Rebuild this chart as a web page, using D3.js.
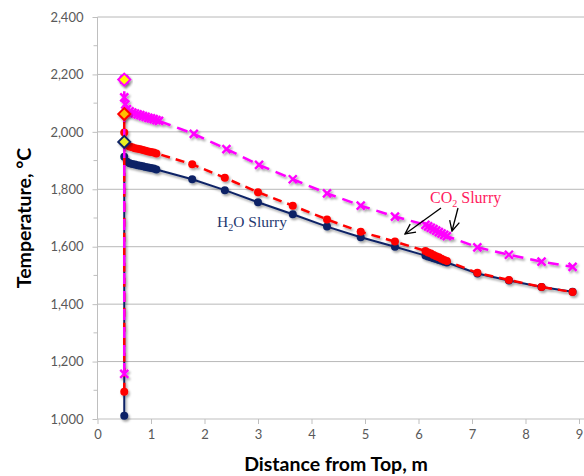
<!DOCTYPE html>
<html>
<head>
<meta charset="utf-8">
<script src="https://cdn.jsdelivr.net/npm/d3@7"></script>
<style>
  html, body { margin: 0; padding: 0; background: #ffffff; }
  svg { display: block; }
</style>
</head>
<body>
<svg id="chart" width="584" height="476"></svg>
<script>
// ---------------- DATA ----------------
const xTicks = [0, 1, 2, 3, 4, 5, 6, 7, 8, 9];
const yTicks = [1000, 1200, 1400, 1600, 1800, 2000, 2200, 2400];

// H2O Slurry (navy, solid, circles)
const h2oX = [0.5, 0.5, 0.55, 0.6, 0.65, 0.7, 0.75, 0.8, 0.85, 0.9, 0.95, 1.0, 1.05, 1.1, 1.77, 2.38, 3.0, 3.65, 4.29, 4.92, 5.56,
              6.13, 6.18, 6.23, 6.28, 6.33, 6.38, 6.43, 6.48, 6.53, 7.1, 7.69, 8.3, 8.88];
const h2oY = [1011, 1913, 1896, 1891, 1888, 1886, 1884, 1882, 1880, 1878, 1876, 1874, 1872, 1869, 1835, 1797, 1755, 1713, 1670, 1633, 1600,
              1569, 1566, 1563, 1560, 1557, 1554, 1551, 1548, 1545, 1507, 1482, 1460, 1443];

// CO2 Slurry (red, dashed, circles)
const redX = [0.5, 0.5, 0.5, 0.55, 0.6, 0.65, 0.7, 0.75, 0.8, 0.85, 0.9, 0.95, 1.0, 1.05, 1.1, 1.77, 2.38, 3.0, 3.65, 4.29, 4.92, 5.56,
              6.13, 6.18, 6.23, 6.28, 6.33, 6.38, 6.43, 6.48, 6.53, 7.1, 7.69, 8.3, 8.88];
const redY = [1095, 2062, 1998, 1953, 1949, 1946, 1943, 1941, 1939, 1937, 1934, 1932, 1930, 1928, 1925, 1887, 1840, 1790, 1743, 1695, 1652, 1618,
              1585, 1580, 1576, 1571, 1567, 1563, 1558, 1554, 1550, 1509, 1484, 1460, 1442];

// CO2 Slurry (magenta, dashed, x markers)
const magX = [0.5, 0.5, 0.5, 0.52, 0.55, 0.6, 0.65, 0.7, 0.75, 0.8, 0.85, 0.9, 0.95, 1.0, 1.05, 1.1, 1.15, 1.8, 2.41, 3.02, 3.65, 4.29, 4.92, 5.56,
              6.13, 6.18, 6.23, 6.28, 6.33, 6.38, 6.43, 6.48, 6.53, 7.1, 7.69, 8.3, 8.88];
const magY = [1157, 2182, 2120, 2096, 2079, 2071, 2067, 2064, 2061, 2058, 2055, 2052, 2049, 2047, 2044, 2041, 2038, 1993, 1940, 1885, 1835, 1786, 1743, 1705,
              1676, 1671, 1666, 1661, 1656, 1651, 1646, 1641, 1637, 1598, 1572, 1548, 1530];

// Diamond markers at the top of the vertical lines
const diamondX = [0.5, 0.5, 0.5];
const diamondY = [2182, 2062, 1965];
const diamondStroke = ["#ff00ff", "#ff0000", "#0d2466"];
const diamondFill = ["#ffff00", "#ffc000", "#e8f020"];

// Annotations
const h2oLabel = "Slurry";
const co2Label = "Slurry";

// ---------------- LAYOUT ----------------
const svg = d3.select("#chart");
const x = d3.scaleLinear().domain([0, 9]).range([97.5, 579]);
const y = d3.scaleLinear().domain([1000, 2400]).range([419, 17]);
const gridRight = 584;

const defs = svg.append("defs");
const sh = defs.append("filter").attr("id", "shadow")
  .attr("x", "-20%").attr("y", "-20%").attr("width", "140%").attr("height", "140%");
sh.append("feDropShadow").attr("dx", 1.5).attr("dy", 2).attr("stdDeviation", 1.2)
  .attr("flood-color", "#000").attr("flood-opacity", 0.35);

const arrowM = defs.append("marker").attr("id", "arrow")
  .attr("viewBox", "0 0 12 12").attr("refX", 11).attr("refY", 6)
  .attr("markerWidth", 12).attr("markerHeight", 12).attr("markerUnits", "userSpaceOnUse")
  .attr("orient", "auto");
arrowM.append("path").attr("d", "M1,1 L11,6 L1,11").attr("fill", "none")
  .attr("stroke", "#000").attr("stroke-width", 1.3);

// gridlines
svg.append("g").selectAll("line").data(yTicks.filter(d => d > 1000)).join("line")
  .attr("x1", x(0)).attr("x2", gridRight).attr("y1", d => y(d)).attr("y2", d => y(d))
  .attr("stroke", "#b8b8b8").attr("stroke-width", 1);

// y axis
const yAxis = svg.append("g").attr("transform", `translate(${x(0)},0)`)
  .call(d3.axisLeft(y).tickValues(yTicks).tickSize(5).tickPadding(9).tickFormat(d3.format(",")));
const yMinor = d3.range(1100, 2400, 200);
svg.append("g").selectAll("line").data(yMinor).join("line")
  .attr("x1", x(0) - 4).attr("x2", x(0)).attr("y1", d => y(d)).attr("y2", d => y(d))
  .attr("stroke", "#bfbfbf");

// x axis
const xAxis = svg.append("g").attr("transform", `translate(0,${y(1000)})`)
  .call(d3.axisBottom(x).tickValues(xTicks).tickSize(5).tickPadding(6).tickFormat(d3.format("d")));

[yAxis, xAxis].forEach(g => {
  g.select(".domain").attr("stroke", "#bfbfbf");
  g.selectAll(".tick line").attr("stroke", "#bfbfbf");
  g.selectAll(".tick text").attr("fill", "#595959")
    .style("font-family", "Lato, 'Open Sans', sans-serif").style("font-size", "13px");
});
yAxis.select(".domain").attr("d", `M0,${y(2400)}V${y(1000)}`);
xAxis.select(".domain").attr("d", `M${x(0)},0H${gridRight}`);

// axis titles
svg.append("text").attr("transform", `translate(26,${(y(1000) + y(2400)) / 2}) rotate(-90)`)
  .attr("text-anchor", "middle").attr("dominant-baseline", "middle")
  .style("font-family", "Lato, 'Open Sans', sans-serif").style("font-weight", "bold")
  .style("font-size", "19.5px").attr("fill", "#000").text("Temperature, °C");
svg.append("text").attr("x", 336).attr("y", 471)
  .attr("text-anchor", "middle")
  .style("font-family", "Lato, 'Open Sans', sans-serif").style("font-weight", "bold")
  .style("font-size", "19.5px").attr("fill", "#000").text("Distance from Top, m");

// ---------------- SERIES ----------------
const toPts = (xs, ys) => xs.map((v, i) => ({ x: v, y: ys[i] }));
const line = d3.line().x(d => x(d.x)).y(d => y(d.y));

const seriesG = svg.append("g").attr("filter", "url(#shadow)");

const h2o = toPts(h2oX, h2oY);
const red = toPts(redX, redY);
const mag = toPts(magX, magY);

seriesG.append("path").datum(h2o).attr("d", line).attr("fill", "none")
  .attr("stroke", "#0d2466").attr("stroke-width", 2);
seriesG.append("g").selectAll("circle").data(h2o).join("circle")
  .attr("cx", d => x(d.x)).attr("cy", d => y(d.y)).attr("r", 4).attr("fill", "#0d2466");

seriesG.append("path").datum(red).attr("d", line).attr("fill", "none")
  .attr("stroke", "#ff0000").attr("stroke-width", 2.5).attr("stroke-dasharray", "9,6");
seriesG.append("g").selectAll("circle").data(red).join("circle")
  .attr("cx", d => x(d.x)).attr("cy", d => y(d.y)).attr("r", 4).attr("fill", "#ff0000");

seriesG.append("path").datum(mag).attr("d", line).attr("fill", "none")
  .attr("stroke", "#ff00ff").attr("stroke-width", 2.5).attr("stroke-dasharray", "11,7");
seriesG.append("g").selectAll("path").data(mag).join("path")
  .attr("transform", d => `translate(${x(d.x)},${y(d.y)})`)
  .attr("d", "M-4,-4L4,4M-4,4L4,-4").attr("stroke", "#ff00ff").attr("stroke-width", 2.4);

// diamonds
const diamonds = diamondX.map((v, i) => ({ x: v, y: diamondY[i], s: diamondStroke[i], f: diamondFill[i] }));
svg.append("g").attr("filter", "url(#shadow)").selectAll("path").data(diamonds).join("path")
  .attr("transform", d => `translate(${x(d.x)},${y(d.y)})`)
  .attr("d", "M0,-6L6,0L0,6L-6,0Z").attr("fill", d => d.f).attr("stroke", d => d.s).attr("stroke-width", 2);

// ---------------- ANNOTATIONS ----------------
const serif = "'Liberation Serif', 'DejaVu Serif', serif";
const t1 = svg.append("text").attr("x", 217).attr("y", 227)
  .style("font-family", serif).style("font-size", "15.5px").attr("fill", "#1f3870");
t1.append("tspan").text("H");
t1.append("tspan").text("2").attr("dy", 4).style("font-size", "10px");
t1.append("tspan").text("O " + h2oLabel).attr("dy", -4);

const t2 = svg.append("text").attr("x", 430).attr("y", 203)
  .style("font-family", serif).style("font-size", "16px").attr("fill", "#ff1a5e");
t2.append("tspan").text("CO");
t2.append("tspan").text("2").attr("dy", 4).style("font-size", "10px");
t2.append("tspan").text(" " + co2Label).attr("dy", -4);

svg.append("line").attr("x1", 441).attr("y1", 208).attr("x2", 405).attr("y2", 234)
  .attr("stroke", "#000").attr("stroke-width", 1.3).attr("marker-end", "url(#arrow)");
svg.append("line").attr("x1", 458).attr("y1", 208).attr("x2", 452).attr("y2", 231)
  .attr("stroke", "#000").attr("stroke-width", 1.3).attr("marker-end", "url(#arrow)");
</script>
</body>
</html>
